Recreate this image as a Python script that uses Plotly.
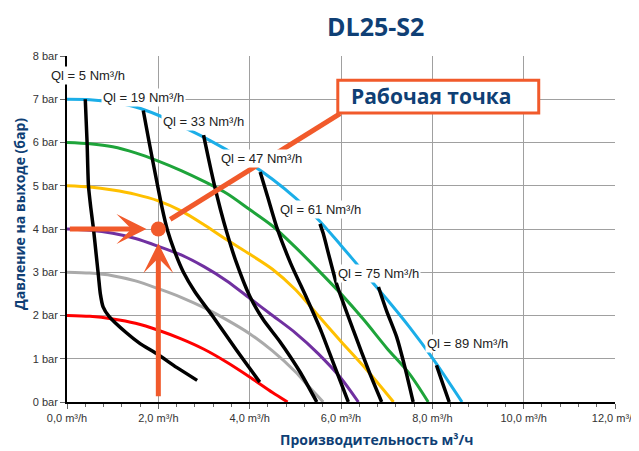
import plotly.graph_objects as go

# ---- data ----
x_tickvals = [0, 2, 4, 6, 8, 10, 12]
x_ticktext = ["0,0 m³/h", "2,0 m³/h", "4,0 m³/h", "6,0 m³/h", "8,0 m³/h", "10,0 m³/h", "12,0 m³/h"]
y_tickvals = [0, 1, 2, 3, 4, 5, 6, 7, 8]
y_ticktext = ["0 bar", "1 bar", "2 bar", "3 bar", "4 bar", "5 bar", "6 bar", "7 bar", "8 bar"]

# pump curves (pressure bar vs flow m3/h)
p7_q = [0, 0.5, 1, 1.5, 2, 2.5, 3, 3.5, 4, 4.5, 5, 5.5, 6, 6.5, 7, 7.5, 8, 8.65]
p7_p = [7.0, 6.99, 6.93, 6.82, 6.63, 6.38, 6.12, 5.83, 5.52, 5.15, 4.72, 4.22, 3.62, 3.0, 2.38, 1.73, 1.02, 0]
p6_q = [0, 0.5, 1, 1.5, 2, 2.5, 3, 3.5, 4, 4.5, 5, 5.5, 6, 6.5, 7, 7.5, 7.91]
p6_p = [6.0, 5.97, 5.9, 5.76, 5.57, 5.35, 5.1, 4.82, 4.45, 4.07, 3.58, 3.05, 2.5, 1.9, 1.25, 0.65, 0]
p5_q = [0, 0.5, 1, 1.5, 2, 2.5, 3, 3.5, 4, 4.5, 5, 5.5, 6, 6.5, 7.15]
p5_p = [5.0, 4.97, 4.9, 4.8, 4.65, 4.42, 4.1, 3.75, 3.42, 3.07, 2.6, 2.0, 1.4, 0.82, 0]
p4_q = [0, 0.5, 1, 1.5, 2, 2.5, 3, 3.5, 4, 4.5, 5, 5.5, 6, 6.38]
p4_p = [4.0, 3.97, 3.9, 3.78, 3.6, 3.4, 3.13, 2.8, 2.4, 2.0, 1.6, 1.12, 0.55, 0]
p3_q = [0, 0.5, 1, 1.5, 2, 2.5, 3, 3.5, 4, 4.5, 5, 5.3, 5.61]
p3_p = [3.0, 2.98, 2.92, 2.8, 2.62, 2.42, 2.18, 1.9, 1.58, 1.18, 0.7, 0.35, 0]
p2_q = [0, 0.5, 1, 1.5, 2, 2.5, 3, 3.5, 4, 4.5, 4.83]
p2_p = [2.0, 1.98, 1.92, 1.82, 1.66, 1.46, 1.22, 0.92, 0.58, 0.22, 0]

# gas consumption lines (Ql)
ql5_q = [0.40, 0.44, 0.47, 0.52, 0.58, 0.64, 0.69, 0.73, 0.79, 0.92, 1.3, 1.6, 1.96, 2.4, 2.85]
ql5_p = [7.0, 6.0, 5.0, 4.5, 4.0, 3.4, 2.9, 2.5, 2.2, 1.98, 1.6, 1.35, 1.12, 0.8, 0.5]
ql19_q = [1.67, 1.8, 1.96, 2.08, 2.2, 2.35, 2.55, 2.8, 3.2, 3.71, 4.22]
ql19_p = [6.74, 6.0, 5.13, 4.5, 3.97, 3.5, 3.0, 2.55, 1.97, 1.2, 0.46]
ql33_q = [2.99, 3.1, 3.22, 3.36, 3.5, 3.7, 4.0, 4.3, 4.66, 5.1, 5.47]
ql33_p = [6.17, 5.62, 5.05, 4.45, 3.92, 3.25, 2.45, 1.9, 1.4, 0.7, 0]
ql47_q = [4.23, 4.4, 4.59, 4.9, 5.25, 5.55, 5.85, 6.16]
ql47_p = [5.32, 4.72, 4.05, 3.2, 2.4, 1.68, 0.85, 0]
ql61_q = [5.54, 5.61, 5.75, 5.9, 6.27, 6.63, 6.89]
ql61_p = [4.12, 3.9, 3.33, 2.74, 1.66, 0.66, 0]
ql75_q = [6.82, 7.0, 7.22, 7.4, 7.58]
ql75_p = [2.66, 2.1, 1.5, 0.8, 0]
ql89_q = [8.09, 8.23, 8.37]
ql89_p = [0.85, 0.42, 0]

ql_labels = ["Ql = 5 Nm³/h", "Ql = 19 Nm³/h", "Ql = 33 Nm³/h", "Ql = 47 Nm³/h",
             "Ql = 61 Nm³/h", "Ql = 75 Nm³/h", "Ql = 89 Nm³/h"]
ql_label_q = [0.46, 1.67, 2.98, 4.25, 5.55, 6.82, 8.78]
ql_label_p = [7.55, 7.05, 6.49, 5.63, 4.46, 2.97, 1.35]

work_q = [2.0]
work_p = [4.0]
title_text = "DL25-S2"
callout_text = "Рабочая точка"
x_title = "Производительность м³/ч"
y_title = "Давление на выходе (бар)"

ORANGE = "#F15A2B"
NAVY = "#0F3F75"

# page body has an 8px margin: figure sized to fit the 639x451 window
W, H = 631, 443
L, R, T, B = 59, 24, 48, 49
PW, PH = W - L - R, H - T - B

fig = go.Figure()

pumps = [
    (p2_q, p2_p, "#FF0000"),
    (p3_q, p3_p, "#AAAAAA"),
    (p4_q, p4_p, "#7030A0"),
    (p5_q, p5_p, "#FFC000"),
    (p6_q, p6_p, "#1EA43A"),
    (p7_q, p7_p, "#1BAEE8"),
]
for q, p, c in pumps:
    fig.add_trace(go.Scatter(x=q, y=p, mode="lines",
                             line=dict(color=c, width=3, shape="spline", smoothing=0.8),
                             hoverinfo="skip", showlegend=False))

for q, p in [(ql5_q, ql5_p), (ql19_q, ql19_p), (ql33_q, ql33_p), (ql47_q, ql47_p),
             (ql61_q, ql61_p), (ql75_q, ql75_p), (ql89_q, ql89_p)]:
    fig.add_trace(go.Scatter(x=q, y=p, mode="lines",
                             line=dict(color="black", width=3.5, shape="spline", smoothing=0.6),
                             hoverinfo="skip", showlegend=False))

for t, q, p in zip(ql_labels, ql_label_q, ql_label_p):
    fig.add_annotation(x=q, y=p, text=t, showarrow=False, bgcolor="white",
                       font=dict(family="Liberation Sans, Arial", size=13, color="#222"), borderpad=1)

# callout line from box to working point
fig.add_shape(type="line", x0=2.26, y0=4.22, x1=5.98, y1=6.67, line=dict(color=ORANGE, width=5))
# callout box
fig.add_shape(type="rect", x0=5.93, x1=10.33, y0=6.68, y1=7.44, fillcolor="white",
              line=dict(color=ORANGE, width=3))

# arrows to working point
fig.add_annotation(x=1.74, y=4.0, ax=0.03, ay=4.0, axref="x", ayref="y", xref="x", yref="y",
                   text="", showarrow=True, arrowhead=3, arrowsize=1.0, arrowwidth=5, arrowcolor=ORANGE,
                   standoff=0)
fig.add_annotation(x=2.0, y=3.67, ax=2.0, ay=0.1, axref="x", ayref="y", xref="x", yref="y",
                   text="", showarrow=True, arrowhead=3, arrowsize=1.0, arrowwidth=5, arrowcolor=ORANGE,
                   standoff=0)

fig.add_trace(go.Scatter(x=work_q, y=work_p, mode="markers", marker=dict(color=ORANGE, size=15),
                         hoverinfo="skip", showlegend=False))

fig.add_annotation(x=7.97, y=7.08, text="<b>" + callout_text + "</b>", showarrow=False,
                   font=dict(family="Open Sans", size=21, color=NAVY))

# chart title (box kept inside the figure)
fig.add_annotation(xref="paper", yref="paper", x=(375 - 67) / PW, y=1 + T / PH,
                   text="<b>" + title_text + "</b>", showarrow=False, xanchor="center", yanchor="top",
                   borderpad=0, font=dict(family="Open Sans", size=25, color=NAVY))

# axis titles
fig.add_annotation(xref="paper", yref="paper", x=(377 - 67) / PW, y=-(440 - 402) / PH,
                   text="<b>" + x_title + "</b>", showarrow=False, xanchor="center", yanchor="middle",
                   font=dict(family="Open Sans", size=14, color=NAVY))
fig.add_annotation(xref="paper", yref="paper", x=-(67 - 19) / PW, y=(402 - 214) / PH,
                   text="<b>" + y_title + "</b>", showarrow=False, textangle=-90,
                   xanchor="center", yanchor="middle",
                   font=dict(family="Open Sans", size=14, color=NAVY))

fig.update_layout(
    width=W, height=H,
    margin=dict(l=L, r=R, t=T, b=B, autoexpand=False),
    paper_bgcolor="white", plot_bgcolor="white",
    xaxis=dict(range=[0, 12], tickvals=x_tickvals, ticktext=x_ticktext, showgrid=True, gridcolor="#A0A0A0",
               gridwidth=1, showline=True, linecolor="black", linewidth=2, ticks="outside", ticklen=5,
               tickcolor="#666", zeroline=False, automargin=False,
               minor=dict(dtick=0.4, tick0=0, ticks="outside", ticklen=3, tickcolor="#666", showgrid=False),
               tickfont=dict(family="Liberation Sans, Arial", size=11, color="#333")),
    yaxis=dict(range=[0, 8], tickvals=y_tickvals, ticktext=y_ticktext, showgrid=True, gridcolor="#A0A0A0",
               gridwidth=1, showline=True, linecolor="black", linewidth=2, ticks="outside", ticklen=5,
               tickcolor="#666", zeroline=False, automargin=False,
               tickfont=dict(family="Liberation Sans, Arial", size=11, color="#333")),
)

fig.write_html("out.html")
